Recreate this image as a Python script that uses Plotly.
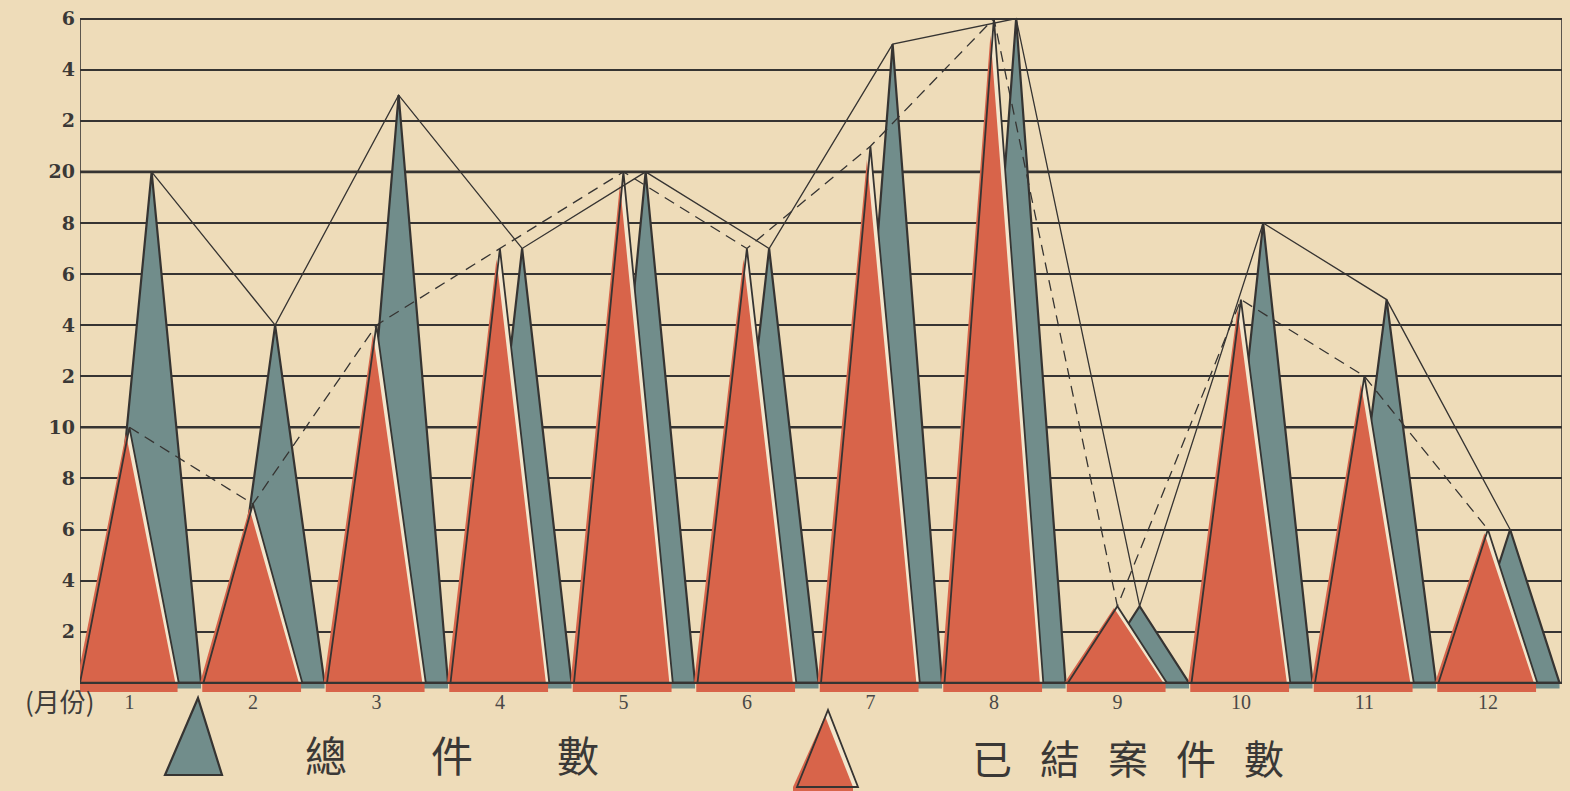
import plotly.graph_objects as go

# ---------------- data ----------------
months = list(range(1, 13))
month_labels = ["1", "2", "3", "4", "5", "6", "7", "8", "9", "10", "11", "12"]
total_cases = [20, 14, 23, 17, 20, 17, 25, 26, 3, 18, 15, 6]      # 總件數
closed_cases = [10, 7, 14, 17, 20, 17, 21, 26, 3, 15, 12, 6]      # 已結案件數
y_tick_vals = [2, 4, 6, 8, 10, 12, 14, 16, 18, 20, 22, 24, 26]
y_tick_text = ["2", "4", "6", "8", "10", "2", "4", "6", "8", "20", "2", "4", "6"]

# ---------------- style ----------------
BG = "#eedcb9"
RED = "#d8644a"
GRAY = "#718d8b"
INK = "#363432"
HALF = 0.40        # half width of a triangle (x units)
GRAY_OFF = 0.18    # offset of the total-triangle from the month position
SHIFT = 0.028      # misregistration of the red ink

W, H = 1570, 791
ML, MR, MT, MB = 80, 8, 16, 99


def px_x(px):
    return (px - ML) / (W - ML - MR)


def px_y(py):
    return (H - MB - py) / (H - MT - MB)


def triangles(centers, heights, half, dx=0.0):
    xs, ys = [], []
    for c, h in zip(centers, heights):
        xs += [c - half + dx, c + dx, c + half + dx, c - half + dx, None]
        ys += [0, h, 0, 0, None]
    return xs, ys


def bars(centers, half, depth, dx=0.0):
    xs, ys = [], []
    for c in centers:
        xs += [c - half + dx, c + half + dx, c + half + dx, c - half + dx, c - half + dx, None]
        ys += [0, 0, -depth, -depth, 0, None]
    return xs, ys


gray_centers = [m + GRAY_OFF for m in months]
red_centers = list(months)

fig = go.Figure()

# gray base strips and red base strips under the baseline
gx, gy = bars(gray_centers, HALF, 0.22)
fig.add_trace(go.Scatter(x=gx, y=gy, mode="lines", fill="toself", fillcolor=GRAY,
                         line=dict(width=0), hoverinfo="skip", showlegend=False))
rx, ry = bars(red_centers, HALF, 0.36, dx=-0.01)
fig.add_trace(go.Scatter(x=rx, y=ry, mode="lines", fill="toself", fillcolor=RED,
                         line=dict(width=0), hoverinfo="skip", showlegend=False))

# total (gray) triangles
tx, ty = triangles(gray_centers, total_cases, HALF)
fig.add_trace(go.Scatter(x=tx, y=ty, mode="lines", fill="toself", fillcolor=GRAY,
                         line=dict(color=INK, width=2.2), name="總件數", showlegend=False))

# cream underlay of the red triangles (the light sliver on their right edge)
cx, cy = triangles(red_centers, closed_cases, HALF)
fig.add_trace(go.Scatter(x=cx, y=cy, mode="lines", fill="toself", fillcolor="#f3e6cc",
                         line=dict(width=0), hoverinfo="skip", showlegend=False))

# red fill (slightly misregistered to the left)
fx, fy = triangles(red_centers, [v * 0.975 for v in closed_cases], HALF, dx=-SHIFT)
fig.add_trace(go.Scatter(x=fx, y=fy, mode="lines", fill="toself", fillcolor=RED,
                         line=dict(width=0), hoverinfo="skip", showlegend=False))

# red triangle outlines
fig.add_trace(go.Scatter(x=cx, y=cy, mode="lines", line=dict(color=INK, width=1.8),
                         name="已結案件數", showlegend=False))

# connecting lines
fig.add_trace(go.Scatter(x=gray_centers, y=total_cases, mode="lines",
                         line=dict(color=INK, width=1.3), hoverinfo="skip", showlegend=False))
fig.add_trace(go.Scatter(x=red_centers, y=closed_cases, mode="lines",
                         line=dict(color=INK, width=1.3, dash="11px,7px"),
                         hoverinfo="skip", showlegend=False))

shapes = []
# thicker rules at 10 and 20
for yv in (10, 20):
    shapes.append(dict(type="line", xref="x", yref="y", x0=0.6, x1=12.6, y0=yv, y1=yv,
                       line=dict(color=INK, width=2.6), layer="below"))
# frame: left / right verticals, baseline
shapes.append(dict(type="line", xref="x", yref="y", x0=0.6, x1=0.6, y0=0, y1=26,
                   line=dict(color=INK, width=1.6), layer="below"))
shapes.append(dict(type="line", xref="x", yref="y", x0=12.6, x1=12.6, y0=0, y1=26,
                   line=dict(color=INK, width=1.6), layer="below"))
shapes.append(dict(type="line", xref="x", yref="y", x0=0.6, x1=12.6, y0=0, y1=0,
                   line=dict(color=INK, width=2.2), layer="above"))


def path(points):
    s = "M " + " L ".join(f"{px_x(a):.5f},{px_y(b):.5f}" for a, b in points) + " Z"
    return s


# legend icon: gray triangle
shapes.append(dict(type="path", xref="paper", yref="paper",
                   path=path([(165, 775), (198, 698), (222, 775)]),
                   fillcolor=GRAY, line=dict(color=INK, width=2.2), layer="above"))
# legend icon: red triangle
shapes.append(dict(type="path", xref="paper", yref="paper",
                   path=path([(797, 787), (828, 710), (858, 787)]),
                   fillcolor="#f3e6cc", line=dict(width=0), layer="above"))
shapes.append(dict(type="path", xref="paper", yref="paper",
                   path=path([(793, 791), (793, 787), (825, 716), (853, 787), (853, 791)]),
                   fillcolor=RED, line=dict(width=0), layer="above"))
shapes.append(dict(type="path", xref="paper", yref="paper",
                   path=path([(797, 787), (828, 710), (858, 787)]),
                   fillcolor="rgba(0,0,0,0)", line=dict(color=INK, width=1.8), layer="above"))

annotations = [
    dict(text="(月份)", xref="paper", yref="paper", x=px_x(60), y=px_y(700),
         showarrow=False, font=dict(family="Noto Sans CJK TC", size=26, color="#3e3c3a"),
         xanchor="center", yanchor="middle"),
    dict(text="總\u3000\u3000件\u3000\u3000數", xref="paper", yref="paper",
         x=px_x(452), y=px_y(753), showarrow=False,
         font=dict(family="Noto Sans CJK TC", size=42, color="#3a3836"),
         xanchor="center", yanchor="middle"),
    dict(text="已\u2002\u2009結\u2002\u2009案\u2002\u2009件\u2002\u2009數", xref="paper", yref="paper",
         x=px_x(1128), y=px_y(757), showarrow=False,
         font=dict(family="Noto Sans CJK TC", size=40, color="#3a3836"),
         xanchor="center", yanchor="middle"),
]

fig.update_layout(
    width=W, height=H,
    margin=dict(l=ML, r=MR, t=MT, b=MB),
    paper_bgcolor=BG, plot_bgcolor=BG,
    shapes=shapes, annotations=annotations,
    xaxis=dict(range=[0.6, 12.6], tickvals=months, ticktext=month_labels,
               showgrid=False, zeroline=False, showline=False, ticks="",
               tickfont=dict(family="Liberation Serif", size=20, color="#4a4846"),
               ticklabelstandoff=-4),
    yaxis=dict(range=[-0.36, 26.1], tickvals=y_tick_vals, ticktext=y_tick_text,
               showgrid=True, gridcolor=INK, gridwidth=1.5, zeroline=False,
               showline=False, ticks="",
               tickfont=dict(family="DejaVu Serif", size=19, color="#3a3836", weight="bold"),
               ticklabelstandoff=4),
)

fig.write_html(
    "out.html",
    config={"displayModeBar": False},
    post_script="document.body.style.margin='0';document.body.style.background='%s';" % BG,
)
